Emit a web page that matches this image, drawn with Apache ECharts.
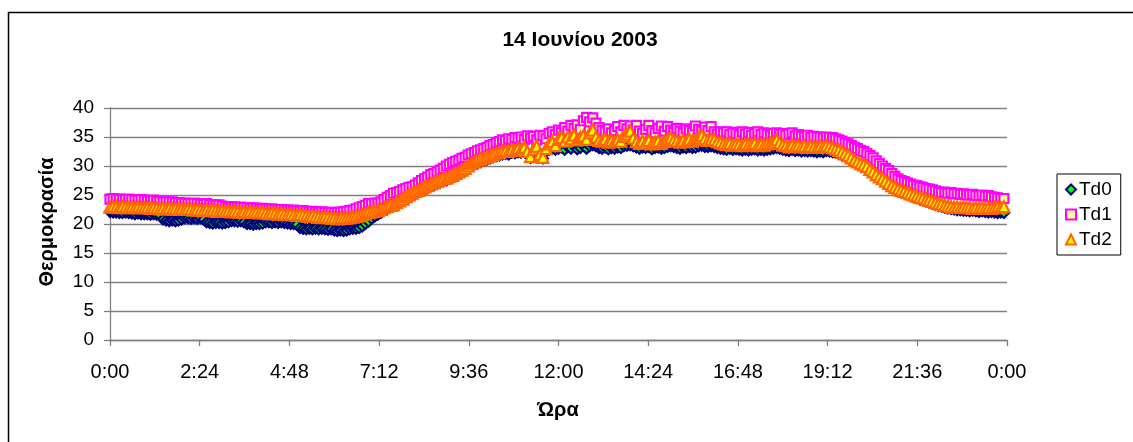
<!DOCTYPE html>
<html>
<head>
<meta charset="utf-8">
<script src="https://cdn.jsdelivr.net/npm/echarts@6/dist/echarts.min.js"></script>
<style>
  html, body { margin: 0; padding: 0; background: #fff; }
  #chart { width: 1133px; height: 442px; }
</style>
</head>
<body>
<div id="chart"></div>
<script>
// Temperature readings, one every 5 minutes from 0:00 to 23:55 (12 per row = 1 hour)
const sampleStepMin = 5;

const td0 = [
  22.1, 22.0, 22.0, 21.9, 21.9, 22.0, 21.9, 21.8, 21.7, 21.8, 21.7, 21.7,
  21.7, 21.6, 21.7, 21.6, 21.5, 20.8, 20.6, 20.5, 20.6, 20.5, 20.6, 20.8,
  21.0, 21.0, 20.9, 21.0, 20.9, 21.0, 20.8, 20.3, 20.2, 20.1, 20.2, 20.2,
  20.1, 20.2, 20.3, 20.5, 20.5, 20.4, 20.5, 20.3, 20.0, 20.0, 19.9, 20.0,
  20.0, 20.1, 20.3, 20.3, 20.2, 20.3, 20.2, 20.3, 20.2, 20.1, 20.0, 20.0,
  19.9, 19.3, 19.2, 19.1, 19.2, 19.1, 19.2, 19.1, 19.2, 19.1, 19.0, 19.1,
  18.9, 18.8, 18.9, 18.8, 18.9, 19.1, 19.2, 19.2, 19.3, 19.6, 20.0, 20.4,
  20.9, 21.3, 21.6, 21.9, 22.3, 22.6, 22.9, 23.1, 23.4, 23.7, 24.0, 24.3,
  24.6, 24.9, 25.2, 25.5, 25.7, 26.0, 26.2, 26.5, 26.7, 27.0, 27.2, 27.4,
  27.5, 27.8, 28.0, 28.3, 28.6, 28.9, 29.2, 29.6, 30.0, 30.3, 30.5, 30.7,
  30.9, 31.1, 31.3, 31.5, 31.7, 31.8, 32.0, 32.1, 32.0, 32.3, 32.2, 32.4,
  32.3, 32.5, 32.1, 31.4, 32.4, 32.6, 31.8, 31.3, 32.5, 32.8, 33.0, 32.8,
  33.0, 33.2, 32.8, 33.3, 33.0, 33.4, 32.9, 33.1, 33.5, 33.0, 33.4, 33.6,
  33.4, 33.1, 33.0, 33.2, 32.9, 33.1, 33.0, 33.2, 33.1, 33.4, 33.5, 33.6,
  33.4, 33.2, 33.0, 33.2, 33.1, 33.3, 32.9, 33.1, 33.2, 33.0, 33.1, 33.3,
  33.4, 33.3, 33.1, 33.0, 33.2, 33.1, 33.3, 33.1, 33.2, 33.4, 33.5, 33.3,
  33.3, 33.4, 33.3, 33.1, 33.0, 32.9, 32.8, 33.0, 32.8, 32.9, 32.8, 32.7,
  32.8, 32.7, 32.8, 32.9, 32.7, 32.8, 32.7, 32.8, 32.9, 33.0, 33.1, 33.0,
  32.8, 32.7, 32.6, 32.8, 32.6, 32.7, 32.5, 32.6, 32.5, 32.6, 32.5, 32.4,
  32.5, 32.4, 32.6, 32.5, 32.4, 32.3, 32.1, 31.9, 31.7, 31.4, 31.1, 30.7,
  30.4, 30.1, 29.9, 29.6, 29.1, 28.7, 28.2, 27.8, 27.5, 27.1, 26.7, 26.3,
  26.0, 25.7, 25.5, 25.3, 25.1, 24.9, 24.7, 24.5, 24.3, 24.1, 23.9, 23.7,
  23.5, 23.3, 23.1, 23.0, 22.8, 22.7, 22.6, 22.5, 22.4, 22.4, 22.3, 22.3,
  22.2, 22.3, 22.2, 22.1, 22.2, 22.1, 22.0, 22.1, 22.0, 21.9, 22.0, 21.9
];

const td1 = [
  24.3, 24.4, 24.3, 24.3, 24.2, 24.2, 24.3, 24.2, 24.1, 24.1, 24.2, 24.1,
  24.0, 24.0, 24.1, 23.9, 23.9, 23.8, 23.9, 23.8, 23.8, 23.7, 23.7, 23.6,
  23.6, 23.5, 23.5, 23.6, 23.5, 23.4, 23.4, 23.5, 23.3, 23.3, 23.2, 23.3,
  23.1, 23.0, 22.9, 23.0, 22.9, 22.8, 22.9, 22.8, 22.8, 22.7, 22.8, 22.7,
  22.6, 22.7, 22.6, 22.5, 22.6, 22.5, 22.4, 22.5, 22.4, 22.4, 22.3, 22.4,
  22.3, 22.2, 22.3, 22.2, 22.1, 22.2, 22.1, 22.0, 22.1, 22.0, 21.9, 22.0,
  21.9, 22.0, 22.0, 22.1, 22.2, 22.3, 22.4, 22.6, 22.8, 23.0, 23.2, 23.5,
  23.5, 23.6, 23.6, 23.8, 24.2, 24.6, 24.9, 25.3, 25.4, 25.6, 25.9, 26.1,
  26.3, 26.4, 26.7, 27.1, 27.5, 27.8, 28.1, 28.5, 28.7, 29.0, 29.3, 29.6,
  30.0, 30.3, 30.6, 30.8, 31.0, 31.3, 31.5, 31.9, 32.1, 32.3, 32.6, 32.8,
  33.0, 33.2, 33.5, 33.7, 34.0, 34.2, 34.5, 34.4, 34.7, 34.6, 34.9, 34.8,
  35.0, 34.6, 35.2, 34.8, 35.1, 34.5, 35.3, 35.2, 34.7, 35.6, 35.9, 35.4,
  36.2, 35.8, 36.6, 36.0, 37.0, 36.5, 37.1, 36.3, 37.8, 38.4, 37.6, 38.3,
  37.4, 36.6, 36.2, 35.9, 36.4, 35.7, 36.1, 36.8, 35.9, 37.0, 36.4, 36.9,
  36.2, 37.0, 36.0, 35.6, 36.3, 37.0, 36.1, 35.7, 36.5, 36.9, 36.0, 36.8,
  36.2, 35.8, 36.5, 36.0, 35.7, 36.4, 36.1, 35.8, 36.9, 36.3, 36.0, 36.7,
  36.1, 36.8, 35.9, 35.5, 35.9, 35.7, 35.9, 35.4, 35.8, 35.6, 35.3, 35.9,
  35.5, 35.8, 35.3, 35.6, 35.9, 35.4, 35.7, 35.5, 35.2, 35.6, 35.7, 35.4,
  35.6, 35.3, 35.5, 35.7, 35.2, 35.4, 35.1, 35.0, 35.3, 34.9, 35.1, 35.0,
  35.0, 34.8, 35.0, 34.9, 34.9, 34.7, 34.5, 34.3, 34.0, 33.8, 33.5, 33.2,
  33.0, 32.7, 32.5, 32.2, 31.8, 31.4, 30.9, 30.4, 30.0, 29.6, 29.2, 28.7,
  28.2, 27.8, 27.5, 27.3, 27.1, 26.9, 26.7, 26.6, 26.4, 26.3, 26.1, 26.0,
  25.9, 25.7, 25.5, 25.4, 25.5, 25.3, 25.4, 25.2, 25.3, 25.1, 25.2, 25.0,
  25.0, 25.1, 24.9, 24.9, 25.0, 24.8, 24.9, 24.7, 24.6, 24.5, 24.4, 24.4
];

const td2 = [
  22.9, 23.0, 22.9, 22.8, 23.0, 22.9, 22.8, 22.9, 22.8, 22.9, 22.8, 22.8,
  22.8, 22.7, 22.8, 22.7, 22.6, 22.7, 22.6, 22.7, 22.6, 22.6, 22.5, 22.6,
  22.5, 22.6, 22.5, 22.4, 22.5, 22.4, 22.3, 22.4, 22.3, 22.4, 22.3, 22.2,
  22.3, 22.2, 22.2, 22.1, 22.2, 22.1, 22.0, 22.1, 22.0, 22.1, 22.0, 22.0,
  21.9, 22.0, 21.9, 21.8, 21.9, 21.8, 21.7, 21.8, 21.7, 21.6, 21.7, 21.6,
  21.5, 21.6, 21.5, 21.4, 21.3, 21.4, 21.3, 21.2, 21.1, 21.2, 21.1, 21.0,
  21.0, 20.9, 21.0, 21.0, 21.0, 21.1, 21.2, 21.3, 21.4, 21.6, 21.8, 22.0,
  22.1, 22.2, 22.3, 22.5, 22.8, 23.0, 23.2, 23.3, 23.7, 24.0, 24.3, 24.7,
  25.0, 25.3, 25.6, 25.8, 26.1, 26.4, 26.6, 26.9, 27.1, 27.4, 27.6, 27.8,
  27.9, 28.2, 28.4, 28.7, 29.0, 29.3, 29.6, 30.0, 30.4, 30.7, 31.0, 31.2,
  31.4, 31.6, 31.8, 32.0, 32.2, 32.3, 32.5, 32.6, 32.5, 32.8, 32.7, 33.0,
  32.8, 33.2, 32.5, 31.6, 32.9, 33.4, 32.0, 31.5, 33.0, 33.8, 34.2, 33.5,
  34.6, 34.9, 34.3, 35.0, 34.7, 35.3, 34.5, 34.9, 35.2, 34.6, 35.7, 36.2,
  35.0, 34.4, 34.3, 34.6, 34.1, 34.4, 34.2, 34.5, 34.3, 35.1, 35.5, 36.0,
  34.8, 34.2, 33.9, 34.3, 34.0, 34.4, 33.8, 34.1, 34.3, 33.9, 34.2, 34.6,
  34.8, 34.5, 34.3, 34.1, 34.4, 34.2, 34.6, 34.3, 34.5, 34.8, 35.2, 34.7,
  34.4, 34.6, 34.5, 34.2, 34.0, 33.8, 33.7, 33.9, 33.6, 33.8, 33.7, 33.5,
  33.8, 33.6, 33.7, 33.9, 33.5, 33.7, 33.6, 33.8, 33.9, 34.1, 34.5, 34.0,
  33.6, 33.5, 33.3, 33.6, 33.4, 33.5, 33.3, 33.4, 33.2, 33.4, 33.3, 33.2,
  33.4, 33.3, 33.5, 33.3, 33.1, 32.9, 32.7, 32.4, 32.1, 31.8, 31.4, 31.0,
  30.7, 30.4, 30.2, 29.9, 29.4, 29.0, 28.5, 28.1, 27.8, 27.4, 27.0, 26.6,
  26.3, 26.0, 25.8, 25.6, 25.4, 25.2, 25.0, 24.8, 24.6, 24.5, 24.2, 24.1,
  23.9, 23.7, 23.5, 23.4, 23.2, 23.1, 23.0, 22.9, 22.9, 22.8, 22.9, 22.8,
  22.8, 22.7, 22.8, 22.7, 22.8, 22.7, 22.8, 22.7, 22.8, 22.9, 22.8, 23.0
];

const seriesNames = ['Td0', 'Td1', 'Td2'];
const xTickLabels = ['0:00', '2:24', '4:48', '7:12', '9:36', '12:00', '14:24', '16:48', '19:12', '21:36', '0:00'];
const yTickLabels = ['0', '5', '10', '15', '20', '25', '30', '35', '40'];
const titleText = '14 Ιουνίου 2003';
const xAxisTitle = 'Ώρα';
const yAxisTitle = 'Θερμοκρασία';

const FONT = '"Liberation Sans", Arial, sans-serif';
const X_STEP = 144;   // minutes between x ticks (2:24)

function toPairs(values) {
  return values.map((v, i) => [i * sampleStepMin, v]);
}

const chart = echarts.init(document.getElementById('chart'), null, { renderer: 'canvas' });

const markerStyles = [
  { symbol: 'diamond',  size: 10, fill: '#00FF00', border: '#000080' },
  { symbol: 'rect',     size: 9,  fill: '#FFFF99', border: '#FF00FF' },
  { symbol: 'triangle', size: 11, fill: '#FFFF00', border: '#FF6600' }
];

const option = {
  animation: false,
  backgroundColor: '#ffffff',
  textStyle: { fontFamily: FONT, color: '#000' },
  title: {
    text: titleText,
    left: 575,
    top: 25,
    textAlign: 'center',
    textStyle: { fontFamily: FONT, fontSize: 21, fontWeight: 'bold', color: '#000' }
  },
  grid: { left: 110, right: 126, top: 108, bottom: 102, containLabel: false },
  legend: {
    orient: 'vertical',
    left: 1057,
    top: 174,
    padding: [6, 9, 6, 8],
    itemGap: 6,
    itemWidth: 10,
    itemHeight: 10,
    borderColor: '#000',
    borderWidth: 1,
    backgroundColor: '#fff',
    data: seriesNames,
    textStyle: { fontFamily: FONT, fontSize: 19, color: '#000', padding: [0, 0, 0, -2] }
  },
  xAxis: {
    type: 'value',
    min: 0,
    max: 1440,
    interval: X_STEP,
    axisLine: { show: true, lineStyle: { color: '#808080', width: 1.3 } },
    axisTick: { show: true, inside: false, length: 6, lineStyle: { color: '#808080', width: 1.3 } },
    splitLine: { show: false },
    axisLabel: {
      margin: 22,
      fontFamily: FONT,
      fontSize: 20,
      color: '#000',
      formatter: v => xTickLabels[Math.round(v / X_STEP)]
    }
  },
  yAxis: {
    type: 'value',
    min: 0,
    max: 40,
    interval: 5,
    axisLine: { show: true, lineStyle: { color: '#808080', width: 1.3 } },
    axisTick: { show: true, inside: false, length: 6, lineStyle: { color: '#808080', width: 1.3 } },
    splitLine: { show: true, lineStyle: { color: '#808080', width: 1.3 } },
    axisLabel: {
      margin: 16,
      fontFamily: FONT,
      fontSize: 19,
      color: '#000',
      formatter: v => yTickLabels[Math.round(v / 5)]
    }
  },
  graphic: [
    {
      type: 'rect',
      silent: true,
      z: -10,
      shape: { x: 8.5, y: 12.5, width: 1400, height: 800 },
      style: { fill: 'none', stroke: '#000', lineWidth: 1.5 }
    },
    {
      type: 'text',
      x: 47,
      y: 222,
      rotation: Math.PI / 2,
      style: {
        text: yAxisTitle,
        fontFamily: FONT,
        fontSize: 20,
        fontWeight: 'bold',
        fill: '#000',
        align: 'center',
        verticalAlign: 'middle'
      }
    },
    {
      type: 'text',
      x: 558,
      y: 410,
      style: {
        text: xAxisTitle,
        fontFamily: FONT,
        fontSize: 20,
        fontWeight: 'bold',
        fill: '#000',
        align: 'center',
        verticalAlign: 'middle'
      }
    }
  ],
  series: [td0, td1, td2].map((vals, k) => ({
    name: seriesNames[k],
    type: 'scatter',
    data: toPairs(vals),
    symbol: markerStyles[k].symbol,
    symbolSize: markerStyles[k].size,
    clip: false,
    z: 2 + k,
    itemStyle: {
      color: markerStyles[k].fill,
      borderColor: markerStyles[k].border,
      borderWidth: 2.2,
      opacity: 1
    },
    emphasis: { disabled: true }
  }))
};

chart.setOption(option);
</script>
</body>
</html>
